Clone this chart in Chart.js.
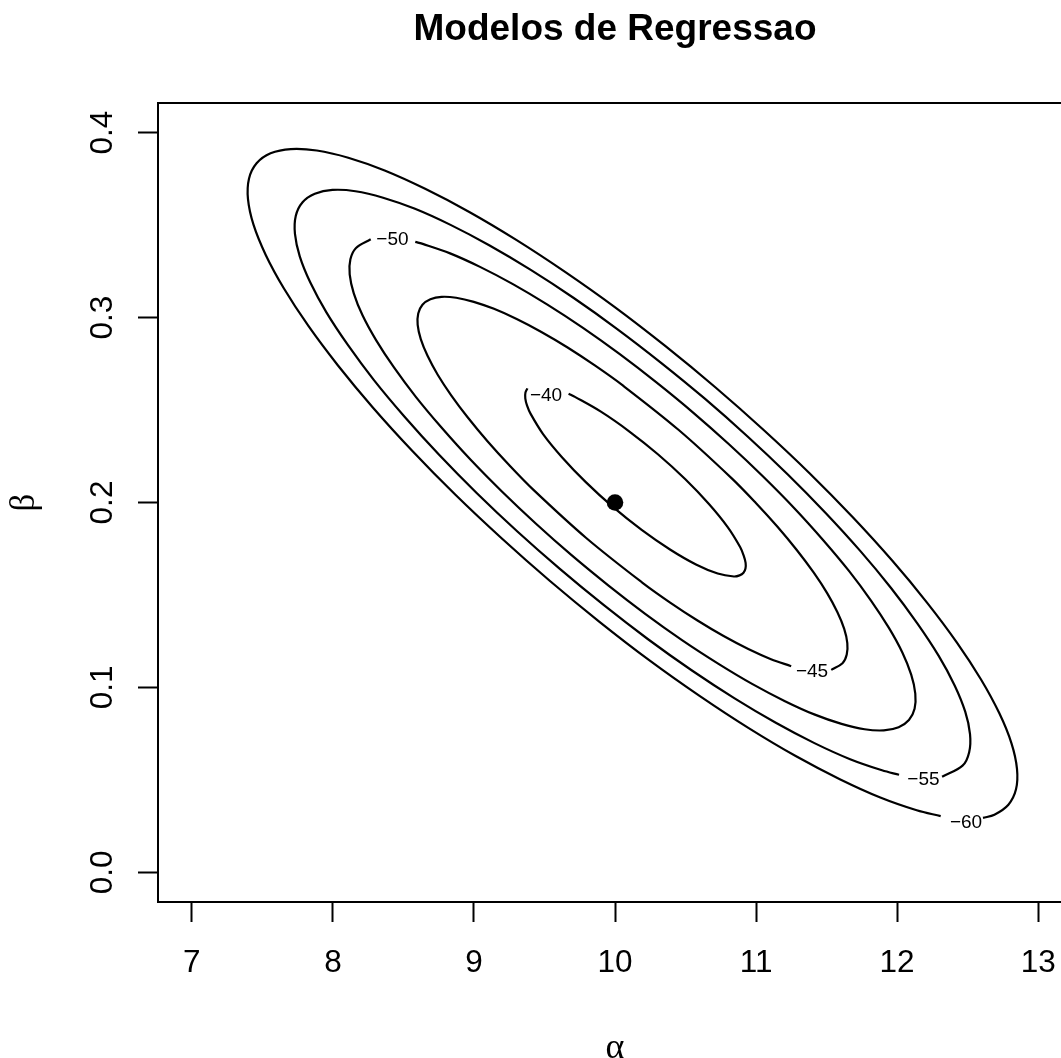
<!DOCTYPE html>
<html>
<head>
<meta charset="utf-8">
<script src="https://cdn.jsdelivr.net/npm/chart.js@4.4.0/dist/chart.umd.min.js"></script>
<style>
  html, body { margin: 0; padding: 0; background: #fff; overflow: hidden; }
  #wrap { width: 1061px; height: 1058px; overflow: hidden; }
  canvas { display: block; }
</style>
</head>
<body>
<div id="wrap"><canvas id="c" width="1100" height="1058"></canvas></div>
<script>
// Log-likelihood surface for the regression parameters (alpha, beta)
const chartTitle = 'Modelos de Regressao';
const xTitle = 'α';
const yTitle = 'β';
const xTicks = [7, 8, 9, 10, 11, 12, 13];
const yTicks = [0.0, 0.1, 0.2, 0.3, 0.4];

// contour levels and where each level label sits
const levels = [-40, -45, -50, -55, -60];
const labelAlpha = [9.511, 11.397, 8.422, 12.187, 12.489];
const labelBeta = [0.2576, 0.1085, 0.3422, 0.0499, 0.0269];

// contour lines as (alpha, beta) pairs, each running from one side of its label gap to the other
const contour40 = [[9.379,0.2617],[9.365,0.2594],[9.364,0.2563],[9.376,0.2525],[9.402,0.2479],[9.490,0.2370],[9.624,0.2245],[9.793,0.2110],[9.985,0.1976],[10.189,0.1852],[10.390,0.1746],[10.574,0.1665],[10.728,0.1616],[10.843,0.1600],[10.883,0.1606],[10.911,0.1620],[10.925,0.1643],[10.926,0.1674],[10.913,0.1712],[10.888,0.1758],[10.799,0.1867],[10.666,0.1992],[10.497,0.2127],[10.304,0.2261],[10.100,0.2385],[9.900,0.2491],[9.716,0.2571],[9.671,0.2588]];
const contour45 = [[11.533,0.1095],[11.613,0.1131],[11.643,0.1178],[11.647,0.1240],[11.625,0.1317],[11.577,0.1407],[11.505,0.1509],[11.408,0.1622],[11.290,0.1742],[11.152,0.1869],[10.997,0.1999],[10.826,0.2132],[10.452,0.2392],[10.055,0.2633],[9.857,0.2741],[9.664,0.2838],[9.478,0.2922],[9.303,0.2992],[9.142,0.3047],[8.999,0.3085],[8.874,0.3107],[8.771,0.3112],[8.691,0.3099],[8.635,0.3069],[8.605,0.3022],[8.601,0.2960],[8.623,0.2883],[8.671,0.2793],[8.743,0.2691],[8.840,0.2578],[8.958,0.2458],[9.096,0.2331],[9.251,0.2201],[9.422,0.2068],[9.796,0.1808],[10.193,0.1567],[10.391,0.1459],[10.585,0.1362],[10.770,0.1278],[10.945,0.1208],[11.106,0.1153],[11.249,0.1115]];
const contour50 = [[8.268,0.3423],[8.164,0.3376],[8.124,0.3315],[8.119,0.3233],[8.148,0.3131],[8.210,0.3012],[8.306,0.2878],[8.433,0.2730],[8.588,0.2571],[8.770,0.2405],[8.975,0.2232],[9.200,0.2058],[9.440,0.1885],[9.692,0.1715],[9.952,0.1552],[10.214,0.1398],[10.475,0.1256],[10.731,0.1129],[10.975,0.1018],[11.205,0.0926],[11.417,0.0853],[11.606,0.0803],[11.770,0.0774],[11.906,0.0768],[12.011,0.0785],[12.084,0.0824],[12.124,0.0885],[12.129,0.0967],[12.100,0.1069],[12.038,0.1188],[11.942,0.1322],[11.815,0.1470],[11.660,0.1629],[11.478,0.1795],[11.273,0.1968],[11.048,0.2142],[10.808,0.2315],[10.556,0.2485],[10.296,0.2648],[10.034,0.2802],[9.773,0.2944],[9.518,0.3071],[9.273,0.3182],[9.043,0.3274],[8.831,0.3347],[8.642,0.3397],[8.584,0.3409]];
const contour55 = [[12.319,0.0517],[12.464,0.0577],[12.511,0.0650],[12.517,0.0748],[12.483,0.0869],[12.408,0.1011],[12.294,0.1172],[12.142,0.1348],[11.957,0.1538],[11.740,0.1737],[11.495,0.1942],[11.227,0.2150],[10.940,0.2357],[10.639,0.2560],[10.329,0.2754],[10.016,0.2938],[9.705,0.3107],[9.400,0.3259],[9.108,0.3391],[8.834,0.3501],[8.582,0.3588],[8.356,0.3648],[8.160,0.3683],[7.997,0.3690],[7.872,0.3669],[7.785,0.3623],[7.737,0.3550],[7.731,0.3452],[7.765,0.3331],[7.840,0.3189],[7.954,0.3028],[8.106,0.2852],[8.291,0.2662],[8.508,0.2464],[8.753,0.2258],[9.021,0.2050],[9.308,0.1843],[9.609,0.1641],[9.919,0.1446],[10.232,0.1262],[10.543,0.1093],[10.848,0.0941],[11.140,0.0809],[11.414,0.0699],[11.667,0.0612],[11.893,0.0552],[12.014,0.0528]];
const contour60 = [[12.609,0.0295],[12.690,0.0312],[12.789,0.0366],[12.843,0.0449],[12.850,0.0560],[12.811,0.0698],[12.725,0.0860],[12.595,0.1043],[12.423,0.1244],[12.212,0.1459],[11.965,0.1686],[11.686,0.1920],[11.381,0.2157],[11.054,0.2392],[10.711,0.2623],[10.358,0.2845],[10.001,0.3055],[9.646,0.3247],[9.300,0.3420],[8.967,0.3571],[8.654,0.3696],[8.367,0.3795],[8.109,0.3864],[7.886,0.3903],[7.702,0.3911],[7.558,0.3888],[7.459,0.3834],[7.405,0.3751],[7.398,0.3640],[7.437,0.3502],[7.523,0.3340],[7.653,0.3157],[7.825,0.2956],[8.036,0.2741],[8.283,0.2514],[8.562,0.2280],[8.867,0.2043],[9.194,0.1808],[9.537,0.1577],[9.890,0.1355],[10.247,0.1145],[10.602,0.0953],[10.948,0.0780],[11.281,0.0629],[11.594,0.0504],[11.881,0.0405],[12.139,0.0336],[12.309,0.0304]];

// the marked parameter point
const pointAlpha = [10];
const pointBeta = [0.2];

const contours = [contour40, contour45, contour50, contour55, contour60];

const datasets = contours.map((pts, i) => ({
  label: String(levels[i]),
  data: pts.map(p => ({ x: p[0], y: p[1] })),
  showLine: true,
  borderColor: '#000',
  borderWidth: 2.2,
  pointRadius: 0,
  tension: 0.34,
  fill: false
}));
datasets.push({
  label: 'ponto',
  data: pointAlpha.map((a, i) => ({ x: a, y: pointBeta[i] })),
  showLine: false,
  pointRadius: 8.3,
  pointBackgroundColor: '#000',
  pointBorderColor: '#000',
  pointBorderWidth: 0
});

const sansFamily = '"Liberation Sans", Arial, Helvetica, sans-serif';
const serifFamily = '"Liberation Serif", "Times New Roman", serif';

// frame box, contour labels and main title
const decorations = {
  id: 'decorations',
  afterDatasetsDraw(chart) {
    const { ctx, chartArea: a, scales: { x, y } } = chart;
    ctx.save();
    ctx.fillStyle = '#000';
    ctx.font = '19px ' + sansFamily;
    ctx.textAlign = 'center';
    ctx.textBaseline = 'middle';
    levels.forEach((lv, i) => {
      ctx.fillText(String(lv).replace('-', '\u2212'),
        x.getPixelForValue(labelAlpha[i]), y.getPixelForValue(labelBeta[i]));
    });
    ctx.lineWidth = 2;
    ctx.strokeStyle = '#000';
    ctx.strokeRect(a.left, a.top, a.right - a.left, a.bottom - a.top);
    ctx.font = 'bold 37px ' + sansFamily;
    ctx.textBaseline = 'alphabetic';
    ctx.fillText(chartTitle, (a.left + a.right) / 2, 40);
    ctx.restore();
  }
};

new Chart(document.getElementById('c'), {
  type: 'scatter',
  data: { datasets },
  options: {
    responsive: false,
    devicePixelRatio: 1,
    animation: false,
    events: [],
    layout: { padding: { top: 103, right: 28, bottom: 0, left: 0 } },
    plugins: { legend: { display: false }, tooltip: { enabled: false }, title: { display: false } },
    scales: {
      x: {
        type: 'linear',
        position: 'bottom',
        min: 6.76,
        max: 13.24,
        afterBuildTicks: s => { s.ticks = xTicks.map(v => ({ value: v })); },
        afterFit: s => { s.height = 156; },
        border: { display: false },
        grid: { drawOnChartArea: false, drawTicks: true, tickLength: 20, tickWidth: 2, tickColor: '#000' },
        ticks: {
          font: { family: sansFamily, size: 31.5 },
          color: '#000',
          padding: 22,
          maxRotation: 0,
          autoSkip: false,
          callback: v => String(v)
        },
        title: {
          display: true,
          text: xTitle,
          color: '#000',
          font: { family: serifFamily, size: 36, lineHeight: 0.5 },
          padding: { top: 0, bottom: 0 }
        }
      },
      y: {
        type: 'linear',
        position: 'left',
        min: -0.016,
        max: 0.416,
        afterBuildTicks: s => { s.ticks = yTicks.map(v => ({ value: v })); },
        afterFit: s => { s.width = 158; },
        border: { display: false },
        grid: { drawOnChartArea: false, drawTicks: true, tickLength: 20, tickWidth: 2, tickColor: '#000' },
        ticks: {
          font: { family: sansFamily, size: 31.5 },
          color: '#000',
          padding: 13.2,
          minRotation: 90,
          maxRotation: 90,
          crossAlign: 'center',
          autoSkip: false,
          callback: v => v.toFixed(1)
        },
        title: {
          display: true,
          text: yTitle,
          color: '#000',
          font: { family: serifFamily, size: 35 },
          padding: { top: 4, bottom: 0 }
        }
      }
    }
  },
  plugins: [decorations]
});
</script>
</body>
</html>
